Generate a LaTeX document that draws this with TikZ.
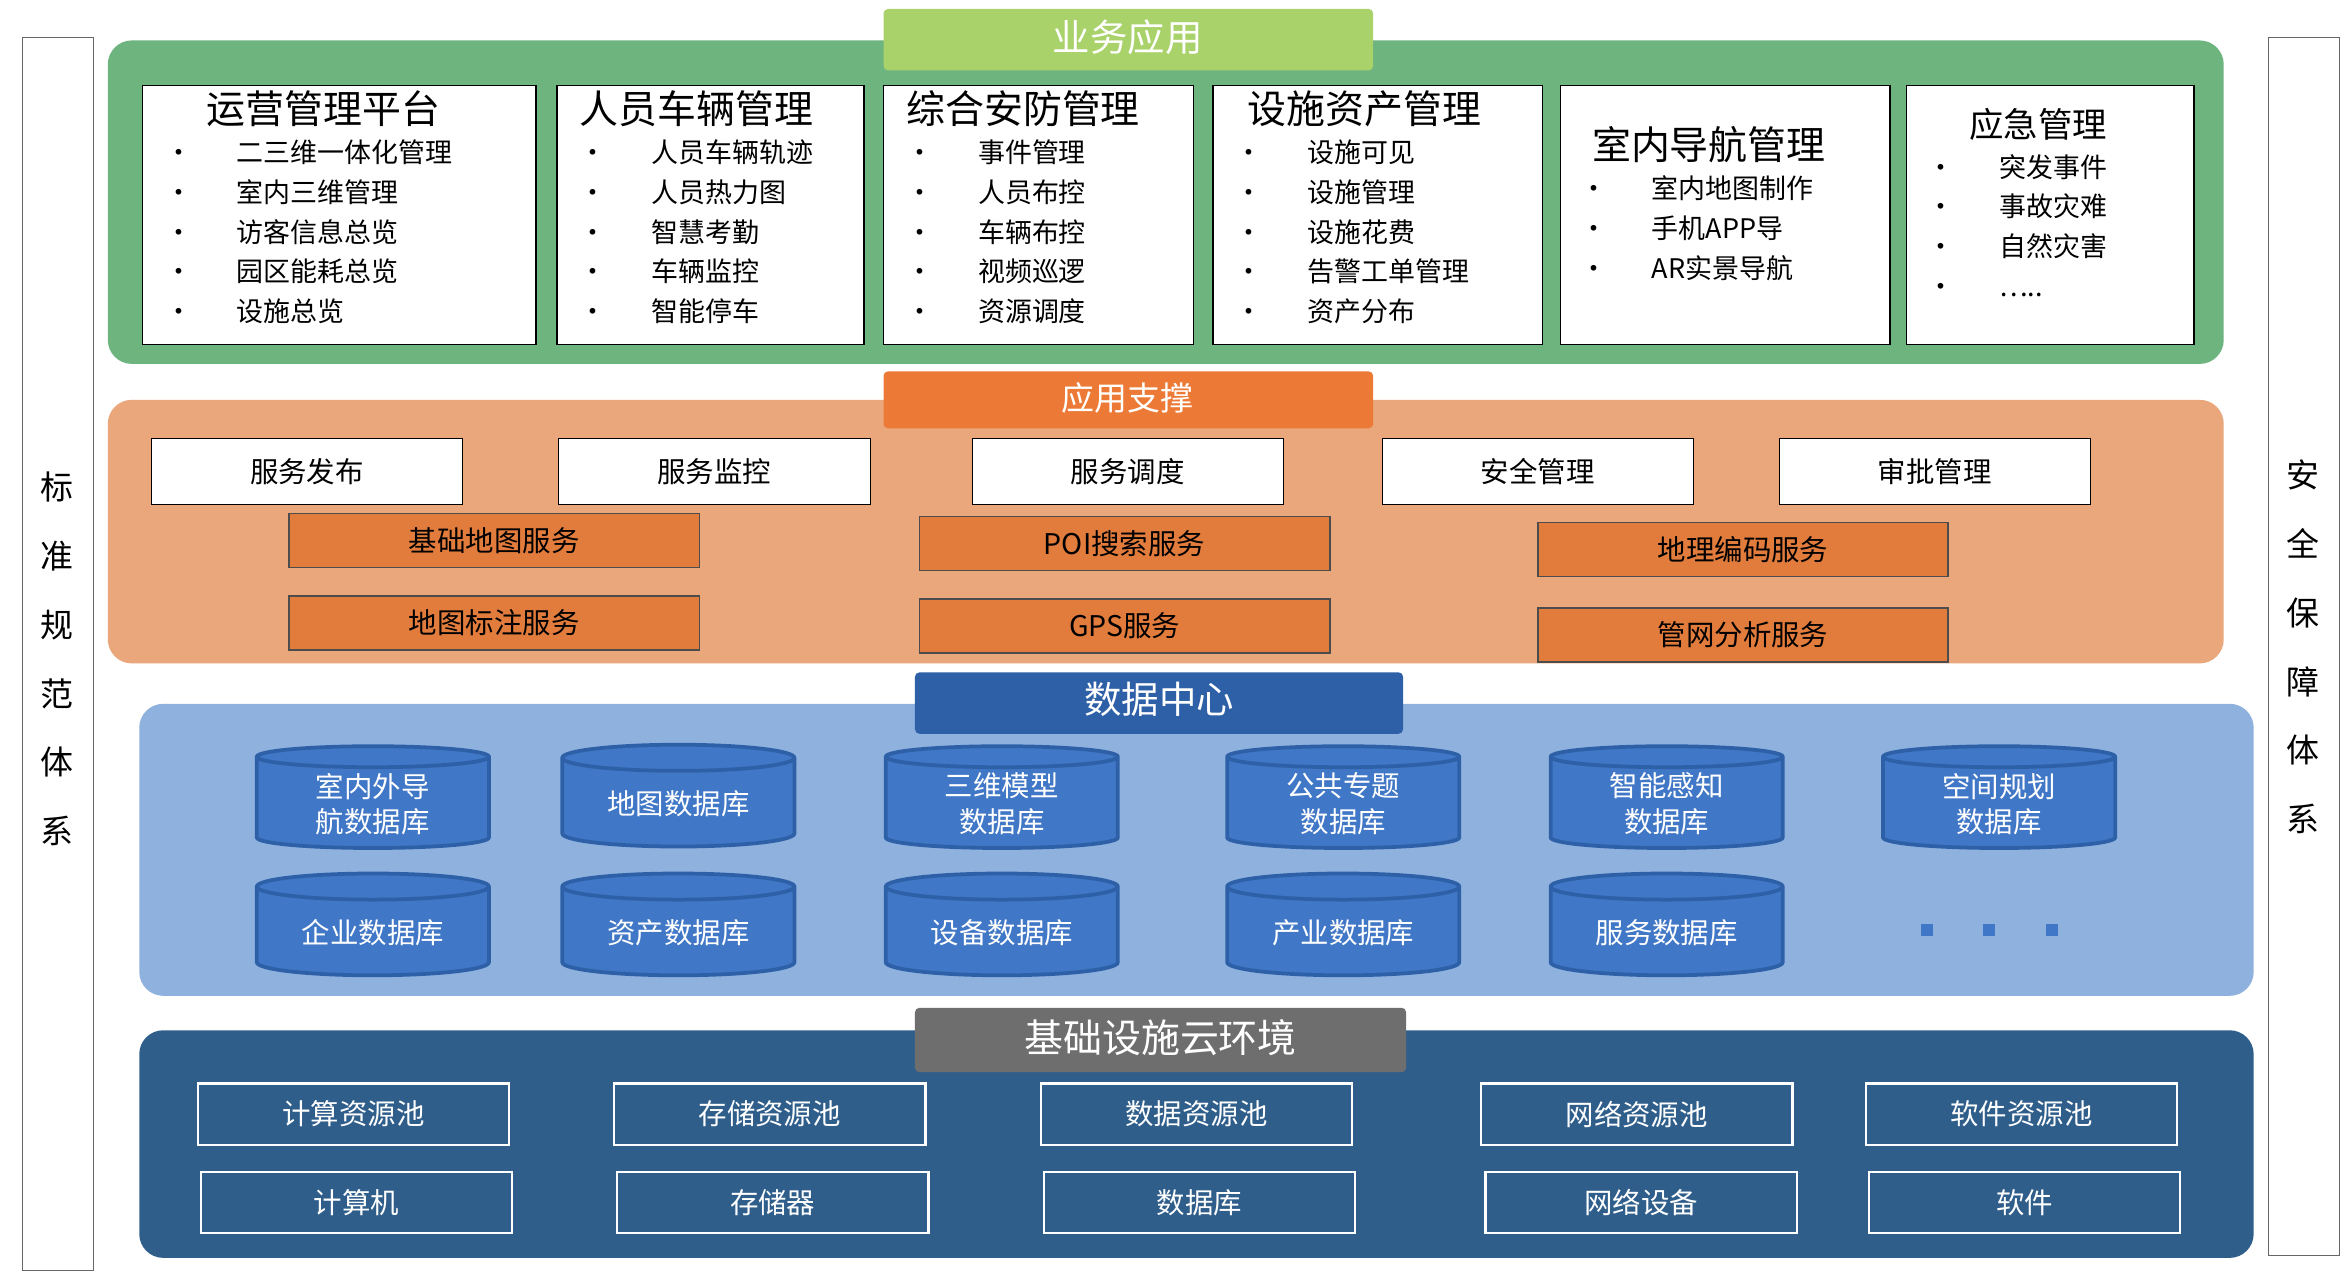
\documentclass[tikz,border=0pt]{standalone}
\usepackage{fontspec}
\setmainfont{Noto Sans CJK SC}
\usetikzlibrary{shapes.geometric}
\definecolor{bizgreen}{HTML}{6DB47F}
\definecolor{tabgreen}{HTML}{A9D26B}
\definecolor{supor}{HTML}{E9A77B}
\definecolor{taborange}{HTML}{EC7A36}
\definecolor{boxorange}{HTML}{E27C3C}
\definecolor{datablue}{HTML}{8EB1DE}
\definecolor{tabblue}{HTML}{2E60A8}
\definecolor{cylblue}{HTML}{4077C6}
\definecolor{cloudblue}{HTML}{2F5E8B}
\definecolor{tabgray}{HTML}{6E6E6E}
\newcommand{\fs}[1]{\fontsize{#1}{26}\selectfont}
\newcommand{\fsl}[2]{\fontsize{#1}{#2}\selectfont}
\tikzset{
  layer/.style={rounded corners=16pt},
  tabbox/.style={rounded corners=3pt},
  appbox/.style={draw=black, line width=1pt, fill=white},
  svcbox/.style={draw=black, fill=white, minimum width=208pt, minimum height=44pt, font=\fs{19}},
  orbox/.style={draw=black!70, line width=1pt, fill=boxorange, minimum width=274pt, minimum height=36pt, font=\fs{19}},
  dbcyl/.style={cylinder, shape border rotate=90, aspect=0.18, draw=tabblue, line width=2.5pt, fill=cylblue, minimum width=155pt, minimum height=68pt, text=white, align=center, font=\fsl{19}{24}, inner sep=1pt},
  poolbox/.style={draw=white, line width=1.5pt, minimum width=208pt, minimum height=41pt, text=white, font=\fs{19}},
  side/.style={draw=black!60, fill=white},
  items/.style={anchor=north west, align=left, font=\fsl{18}{26.5}, inner sep=0pt},
}
\newcommand{\applist}[4]{% name, x1, x2, title + items
  \draw[appbox] (#2,57) rectangle (#3,230);
  \node[items] (#1) at (#2+15,60) {#4};
}
\begin{document}
\begin{tikzpicture}[x=1pt, y=-1pt]
\useasboundingbox (0,0) rectangle (1568,855);
\fill[white] (0,0) rectangle (1568,855);

% side columns
\draw[side] (15,25) rectangle (62,848);
\node[font=\fsl{22}{46}, align=center] (std) at (38,440) {标\\准\\规\\范\\体\\系};
\draw[side] (1515,25) rectangle (1562,838);
\node[font=\fsl{22}{46}, align=center] (sec) at (1538,432) {安\\全\\保\\障\\体\\系};

% business layer
\fill[layer, bizgreen] (72,27) rectangle (1485,243);
\fill[tabbox, tabgreen] (590,6) rectangle (917,47);
\node[text=white, font=\fs{25}] (biz) at (753,25) {业务应用};
\applist{ops}{95}{358}{\hspace{28pt}{\fs{26}运营管理平台}\\•\hspace{30pt}二三维一体化管理\\•\hspace{30pt}室内三维管理\\•\hspace{30pt}访客信息总览\\•\hspace{30pt}园区能耗总览\\•\hspace{30pt}设施总览}
\applist{car}{372}{577}{{\fs{26}人员车辆管理}\\•\hspace{30pt}人员车辆轨迹\\•\hspace{30pt}人员热力图\\•\hspace{30pt}智慧考勤\\•\hspace{30pt}车辆监控\\•\hspace{30pt}智能停车}
\applist{saf}{590}{797}{{\fs{26}综合安防管理}\\•\hspace{30pt}事件管理\\•\hspace{30pt}人员布控\\•\hspace{30pt}车辆布控\\•\hspace{30pt}视频巡逻\\•\hspace{30pt}资源调度}
\applist{ast}{810}{1030}{\hspace{8pt}{\fs{26}设施资产管理}\\•\hspace{30pt}设施可见\\•\hspace{30pt}设施管理\\•\hspace{30pt}设施花费\\•\hspace{30pt}告警工单管理\\•\hspace{30pt}资产分布}
\draw[appbox] (1042,57) rectangle (1262,230);
\node[items] (nav) at (1055,84) {\hspace{8pt}{\fs{26}室内导航管理}\\•\hspace{30pt}室内地图制作\\•\hspace{30pt}手机APP导\\•\hspace{30pt}AR实景导航};
\draw[appbox] (1273,57) rectangle (1465,230);
\node[items] (emg) at (1287,72) {\hspace{28pt}{\fs{23}应急管理}\\•\hspace{30pt}突发事件\\•\hspace{30pt}事故灾难\\•\hspace{30pt}自然灾害\\•\hspace{30pt}…..};

% support layer
\fill[layer, supor] (72,267) rectangle (1485,443);
\fill[tabbox, taborange] (590,248) rectangle (917,286);
\node[text=white, font=\fs{22}] (sup) at (753,266) {应用支撑};
\node[svcbox] (pub) at (205,315) {服务发布};
\node[svcbox] (mon) at (477,315) {服务监控};
\node[svcbox] (dsp) at (753,315) {服务调度};
\node[svcbox] (safe) at (1027,315) {安全管理};
\node[svcbox] (apr) at (1292,315) {审批管理};
\node[orbox] (bmap) at (330,361) {基础地图服务};
\node[orbox] (mark) at (330,416) {地图标注服务};
\node[orbox] (poi) at (751,363) {POI搜索服务};
\node[orbox] (gps) at (751,418) {GPS服务};
\node[orbox] (geo) at (1164,367) {地理编码服务};
\node[orbox] (net) at (1164,424) {管网分析服务};

% data layer
\fill[layer, datablue] (93,470) rectangle (1505,665);
\fill[tabbox, tabblue] (611,449) rectangle (937,490);
\node[text=white, font=\fs{25}] (dc) at (774,467) {数据中心};
\node[dbcyl] (indoor) at (249,537) {室内外导\\航数据库};
\node[dbcyl] (mapdb) at (453,537) {地图数据库};
\node[dbcyl] (model) at (669,537) {三维模型\\数据库};
\node[dbcyl] (topic) at (897,537) {公共专题\\数据库};
\node[dbcyl] (sense) at (1113,537) {智能感知\\数据库};
\node[dbcyl] (plan) at (1335,537) {空间规划\\数据库};
\node[dbcyl] (ent) at (249,623) {企业数据库};
\node[dbcyl] (assetdb) at (453,623) {资产数据库};
\node[dbcyl] (devdb) at (669,623) {设备数据库};
\node[dbcyl] (ind) at (897,623) {产业数据库};
\node[dbcyl] (svcdb) at (1113,623) {服务数据库};
\foreach \x in {1287,1328,1370} \fill[cylblue] (\x-4,617) rectangle (\x+4,625);

% cloud layer
\fill[layer, cloudblue] (93,688) rectangle (1505,840);
\fill[tabbox, tabgray] (611,673) rectangle (939,716);
\node[text=white, font=\fs{26}] (cloud) at (775,693) {基础设施云环境};
\node[poolbox] (cpool) at (236,744) {计算资源池};
\node[poolbox] (spool) at (514,744) {存储资源池};
\node[poolbox] (dpool) at (799,744) {数据资源池};
\node[poolbox] (npool) at (1093,744) {网络资源池};
\node[poolbox] (wpool) at (1350,744) {软件资源池};
\node[poolbox] (pc) at (238,803) {计算机};
\node[poolbox] (stor) at (516,803) {存储器};
\node[poolbox] (db) at (801,803) {数据库};
\node[poolbox] (netdev) at (1096,803) {网络设备};
\node[poolbox] (sw) at (1352,803) {软件};
\end{tikzpicture}
\end{document}
